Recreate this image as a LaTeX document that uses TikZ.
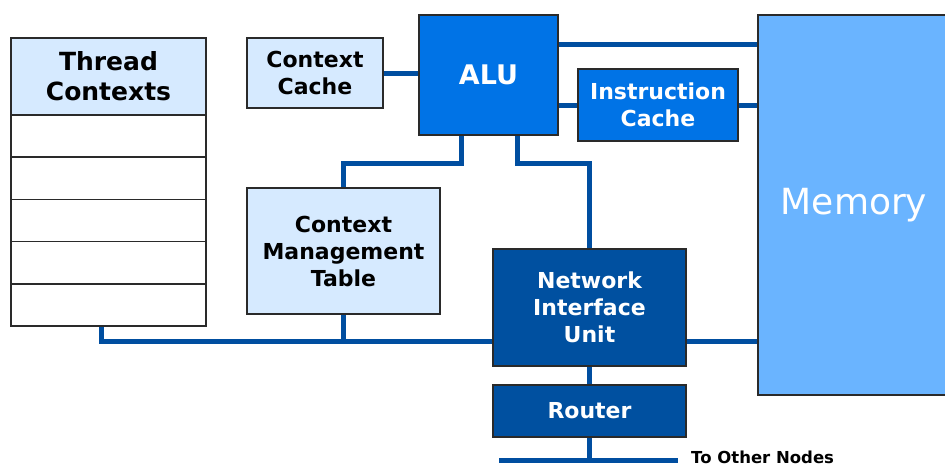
\documentclass[tikz,border=0pt]{standalone}
\usepackage{fontspec}
\setmainfont{DejaVu Sans}
\usetikzlibrary{backgrounds}

\definecolor{paleblue}{HTML}{D6EAFF}
\definecolor{alublue}{HTML}{0073E6}
\definecolor{memblue}{HTML}{6AB4FF}
\definecolor{navy}{HTML}{0050A0}
\definecolor{edge}{HTML}{2A2A2A}
\definecolor{wirecol}{HTML}{004EA0}

\tikzset{
  box/.style={draw=edge, line width=1.6pt, inner sep=0pt, outer sep=0pt,
              align=center, font=\bfseries\fontsize{22}{27}\selectfont},
  pale/.style={box, fill=paleblue, text=black},
  bright/.style={box, fill=alublue, text=white},
  deep/.style={box, fill=navy, text=white},
  tablerow/.style={draw=edge, line width=1.6pt, fill=white, inner sep=0pt,
                   outer sep=0pt, minimum width=195pt, minimum height=42.2pt},
  wire/.style={draw=wirecol, line width=5pt},
}

\begin{document}
\begin{tikzpicture}[x=1pt, y=-1pt]
  \useasboundingbox (0,0) rectangle (945,466);

  % thread context table: header plus five empty slots
  \node[pale, minimum width=195pt, minimum height=77pt,
        font=\bfseries\fontsize{25}{30}\selectfont]
       (tc) at (108.5,76.5) {Thread\\Contexts};
  \foreach \i in {1,...,5} {
    \node[tablerow] (r\i) at (108.5, {115 + 42.2*(\i-0.5)}) {};
  }

  % processing units
  \node[pale, minimum width=136pt, minimum height=70pt] (cc) at (315,73) {Context\\Cache};
  \node[bright, minimum width=139pt, minimum height=120pt,
        font=\bfseries\fontsize{27}{32}\selectfont] (alu) at (488.5,75) {ALU};
  \node[bright, minimum width=160pt, minimum height=72pt] (ic) at (658,105) {Instruction\\Cache};
  \node[pale, minimum width=193pt, minimum height=126pt] (cmt) at (343.5,251)
       {Context\\Management\\Table};
  \node[deep, minimum width=193pt, minimum height=117pt] (niu) at (589.5,307.5)
       {Network\\Interface\\Unit};
  \node[deep, minimum width=193pt, minimum height=52pt] (rt) at (589.5,411) {Router};
  \node[box, fill=memblue, text=white, minimum width=192pt, minimum height=380pt,
        font=\fontsize{36}{42}\selectfont] (mem) at (854,205) {Memory};

  % routing levels and the external network line
  \coordinate (lvlA) at (0,163);
  \coordinate (lvlB) at (0,341);
  \coordinate (lvlC) at (0,460);
  \coordinate (netL) at (499,460);
  \coordinate (netR) at (678,460);
  \node[anchor=base west, inner sep=0pt, font=\bfseries\fontsize{16.5}{19}\selectfont]
       (tonet) at (691,463.5) {To Other Nodes};

  \begin{scope}[on background layer]
    % cache and memory links
    \draw[wire] (cc.east) -- (cc.east -| alu.west);
    \draw[wire] ([yshift=31pt]alu.east) -- ([yshift=31pt]alu.east -| mem.west);
    \draw[wire] (alu.east |- ic.west) -- (ic.west);
    \draw[wire] (ic.east) -- (ic.east -| mem.west);
    % ALU down to the context table and the network interface
    \draw[wire] ([xshift=-27.5pt]alu.south) |- (cmt.north |- lvlA) -- (cmt.north);
    \draw[wire] ([xshift=28.5pt]alu.south) |- (niu.north |- lvlA) -- (niu.north);
    % shared bus
    \draw[wire] ([xshift=-7.5pt]r5.south) |- (niu.west |- lvlB);
    \draw[wire] (cmt.south) -- (cmt.south |- lvlB);
    \draw[wire] (niu.east |- lvlB) -- (mem.west |- lvlB);
    % router to the network
    \draw[wire] (niu.south) -- (rt.north);
    \draw[wire] (rt.south) -- (rt.south |- lvlC);
    \draw[wire] (netL) -- (netR);
  \end{scope}
\end{tikzpicture}
\end{document}
